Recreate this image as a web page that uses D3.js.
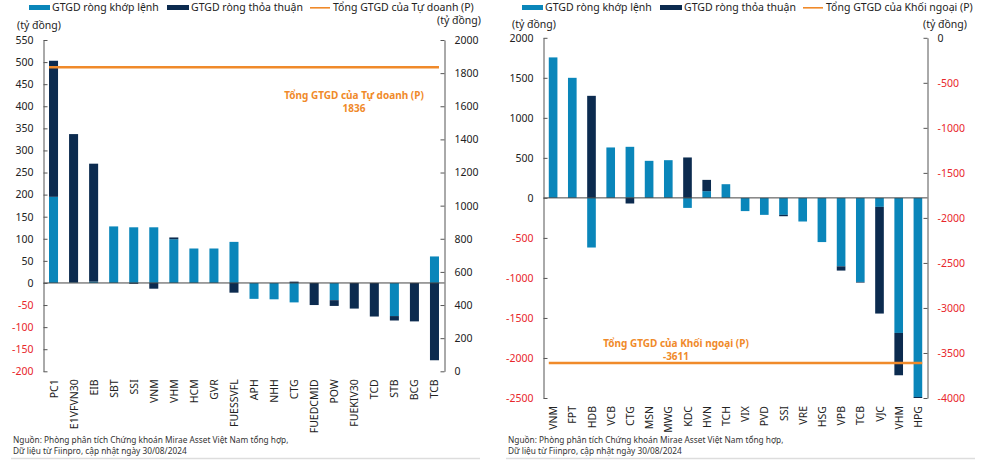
<!DOCTYPE html>
<html><head><meta charset="utf-8">
<script src="https://cdn.jsdelivr.net/npm/d3@7"></script>
<style>
body{margin:0;background:#fff;}
svg{display:block;font-family:"Noto Sans",sans-serif;}
</style></head>
<body><svg id="c" width="1000" height="462"></svg>
<script>
// ---------- Data: left chart (Tự doanh) ----------
const leftCategories = ["PC1","E1VFVN30","EIB","SBT","SSI","VNM","VHM","HCM","GVR","FUESSVFL","APH","NHH","CTG","FUEDCMID","POW","FUEKIV30","TCD","STB","BCG","TCB"];
const leftKhopLenh  = [195, 1, 3, 128, 126, 126, 99, 78, 78, 93, -36, -37, -44, 0, -39, 0, 0, -75, 0, 60];
const leftThoaThuan = [308, 336, 267, 0, -2, -13, 4, 0, 0, -22, 0, 0, 3, -50, -13, -58, -76, -10, -87, -175];
const leftTotal = 1836;
const leftLeftTicks = [550,500,450,400,350,300,250,200,150,100,50,0,-50,-100,-150,-200];
const leftRightTicks = [2000,1800,1600,1400,1200,1000,800,600,400,200,0];

// ---------- Data: right chart (Khối ngoại) ----------
const rightCategories = ["VNM","FPT","HDB","VCB","CTG","MSN","MWG","KDC","HVN","TCH","VIX","PVD","SSI","VRE","HSG","VPB","TCB","VJC","VHM","HPG"];
const rightKhopLenh  = [1755, 1500, -620, 630, 638, 463, 471, -125, 84, 171, -165, -212, -212, -295, -552, -855, -1050, -112, -1687, -2487];
const rightThoaThuan = [0, 0, 1275, 0, -70, 0, 0, 505, 141, 0, 0, 0, -17, 0, 0, -53, -8, -1333, -529, -13];
const rightTotal = -3611;
const rightLeftTicks = [2000,1500,1000,500,0,-500,-1000,-1500,-2000,-2500];
const rightRightTicks = [0,-500,-1000,-1500,-2000,-2500,-3000,-3500,-4000];

const C_LIGHT = "#0a86ba", C_DARK = "#0c2b4f", C_ORANGE = "#f08a2a", C_RED = "#e8262b", C_AXIS = "#555";

const svg = d3.select("#c");
const fmt = d => String(d);

function panel(o){
  const g = svg.append("g");
  const x = d3.scaleBand().domain(o.categories).range([o.x0, o.x1]).paddingInner(0.55).paddingOuter(0.275);
  const yL = d3.scaleLinear().domain([o.lMin, o.lMax]).range([o.yBot, o.yTop]);
  const yR = d3.scaleLinear().domain([o.rMin, o.rMax]).range([o.yBot, o.yTop]);

  const rows = o.categories.map((c,i)=>({cat:c, k:o.khop[i], t:o.thoa[i]}));
  const stack = d3.stack().keys(["k","t"]).offset(d3.stackOffsetDiverging)(rows);
  const colors = {k:C_LIGHT, t:C_DARK};
  stack.forEach(layer=>{
    g.append("g").selectAll("rect").data(layer).join("rect")
      .attr("x", d=>x(d.data.cat))
      .attr("width", x.bandwidth())
      .attr("y", d=>yL(Math.max(d[0],d[1])))
      .attr("height", d=>Math.abs(yL(d[0])-yL(d[1])))
      .attr("fill", colors[layer.key]);
  });

  // zero line
  g.append("line").attr("x1",o.x0).attr("x2",o.x1).attr("y1",yL(0)).attr("y2",yL(0))
    .attr("stroke","#444").attr("stroke-width",1);

  // total line (right axis)
  g.append("line").attr("x1",x(o.categories[0])).attr("x2",x(o.categories[o.categories.length-1])+x.bandwidth())
    .attr("y1",yR(o.total)).attr("y2",yR(o.total)).attr("stroke",C_ORANGE).attr("stroke-width",2.5);
  const lab = g.append("text").attr("text-anchor","middle").attr("fill",C_ORANGE)
    .attr("font-size","10px").attr("font-weight","bold");
  lab.append("tspan").attr("x",o.labX).attr("y",o.labY).text(o.labText);
  lab.append("tspan").attr("x",o.labX).attr("y",o.labY+13).text(String(o.total));

  // left axis
  const axL = g.append("g").attr("transform",`translate(${o.x0},0)`)
    .call(d3.axisLeft(yL).tickValues(o.lTicks).tickFormat(fmt).tickSize(-4).tickPadding(10).tickSizeOuter(0));
  axL.select(".domain").attr("stroke",C_AXIS);
  axL.selectAll(".tick line").attr("stroke",C_AXIS);
  axL.selectAll(".tick text").attr("font-size","10.5px").attr("font-family","Noto Sans")
    .attr("fill",d=>d<0?C_RED:"#222");

  // right axis
  const axR = g.append("g").attr("transform",`translate(${o.x1},0)`)
    .call(d3.axisRight(yR).tickValues(o.rTicks).tickFormat(fmt).tickSize(-4).tickPadding(10).tickSizeOuter(0));
  axR.select(".domain").attr("stroke",C_AXIS);
  axR.selectAll(".tick line").attr("stroke",C_AXIS);
  axR.selectAll(".tick text").attr("font-size","10.5px").attr("font-family","Noto Sans")
    .attr("fill",d=>d<0?C_RED:"#222");

  // category labels
  g.append("g").selectAll("text").data(o.categories).join("text")
    .attr("transform",d=>`translate(${x(d)+x.bandwidth()/2+4},${o.yBot+8}) rotate(-90)`)
    .attr("text-anchor","end").attr("font-size","10.5px").attr("fill","#222").text(d=>d);

  // units
  g.append("text").attr("x",o.unitLX).attr("y",o.unitLY).attr("font-size","10.5px").attr("fill","#222").text("(tỷ đồng)");
  g.append("text").attr("x",o.unitRX).attr("y",o.unitRY).attr("font-size","10.5px").attr("fill","#222").text("(tỷ đồng)");

  // legend
  const lg = g.append("g").attr("font-size","10.5px").attr("fill","#222");
  lg.append("rect").attr("x",o.legX).attr("y",5).attr("width",21).attr("height",5).attr("fill",C_LIGHT);
  lg.append("text").attr("x",o.legX+23).attr("y",11).text("GTGD ròng khớp lệnh");
  lg.append("rect").attr("x",o.legX+138).attr("y",5).attr("width",22).attr("height",5).attr("fill",C_DARK);
  lg.append("text").attr("x",o.legX+162).attr("y",11).text("GTGD ròng thỏa thuận");
  lg.append("rect").attr("x",o.legX+281).attr("y",7).attr("width",20).attr("height",1.6).attr("fill",C_ORANGE);
  lg.append("text").attr("x",o.legX+304).attr("y",11).text(o.legText);

  // source
  const src = g.append("text").attr("font-size","8.3px").attr("fill","#333");
  src.append("tspan").attr("x",o.srcX).attr("y",443).text("Nguồn: Phòng phân tích Chứng khoán Mirae Asset Việt Nam tổng hợp,");
  src.append("tspan").attr("x",o.srcX).attr("y",454).text("Dữ liệu từ Fiinpro, cập nhật ngày 30/08/2024");
  g.append("line").attr("x1",o.srcX-2).attr("x2",o.sepX2).attr("y1",458.5).attr("y2",458.5)
    .attr("stroke","#ddd").attr("stroke-width",1.5);
}

panel({categories:leftCategories, khop:leftKhopLenh, thoa:leftThoaThuan, total:leftTotal,
  x0:43.5, x1:444.5, yTop:40, yBot:371.3, lMin:-200, lMax:550, rMin:0, rMax:2000,
  lTicks:leftLeftTicks, rTicks:leftRightTicks,
  labX:354, labY:99, labText:"Tổng GTGD của Tự doanh (P)",
  unitLX:17, unitLY:29, unitRX:437, unitRY:24,
  legX:29, legText:"Tổng GTGD của Tự doanh (P)", srcX:13, sepX2:480});

panel({categories:rightCategories, khop:rightKhopLenh, thoa:rightThoaThuan, total:rightTotal,
  x0:543.5, x1:927.5, yTop:37.8, yBot:398, lMin:-2500, lMax:2000, rMin:-4000, rMax:0,
  lTicks:rightLeftTicks, rTicks:rightRightTicks,
  labX:676, labY:347, labText:"Tổng GTGD của Khối ngoại (P)",
  unitLX:512, unitLY:28, unitRX:923, unitRY:28,
  legX:522, legText:"Tổng GTGD của Khối ngoại (P)", srcX:508, sepX2:975});
</script></body></html>
